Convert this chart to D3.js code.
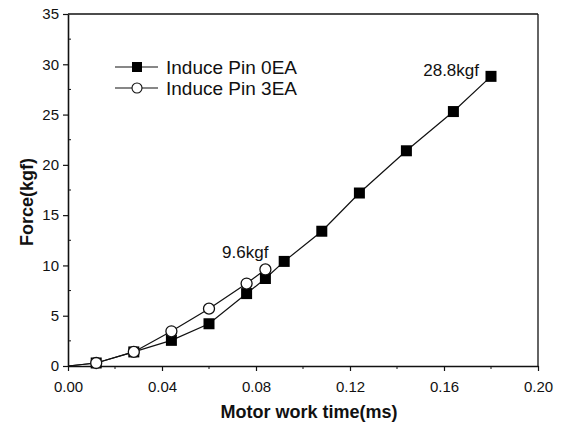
<!DOCTYPE html>
<html>
<head>
<meta charset="utf-8">
<script src="https://cdn.jsdelivr.net/npm/d3@7/dist/d3.min.js"></script>
<style>
  html, body { margin: 0; padding: 0; background: #fff; }
  svg { display: block; font-family: "Liberation Sans", Arial, sans-serif; }
</style>
</head>
<body>
<svg id="chart" width="562" height="424"></svg>
<script>
// Motor work time (ms) for each measurement
const timePin0 = [0, 0.012, 0.028, 0.044, 0.060, 0.076, 0.084, 0.092, 0.108, 0.124, 0.144, 0.164, 0.180];
const forcePin0 = [0, 0.3, 1.4, 2.55, 4.2, 7.2, 8.7, 10.4, 13.4, 17.2, 21.4, 25.3, 28.8];
const timePin3 = [0, 0.012, 0.028, 0.044, 0.060, 0.076, 0.084];
const forcePin3 = [0, 0.3, 1.4, 3.45, 5.7, 8.2, 9.6];

const seriesNames = ["Induce Pin 0EA", "Induce Pin 3EA"];
const xTicks = [0, 0.04, 0.08, 0.12, 0.16, 0.20];
const yTicks = [0, 5, 10, 15, 20, 25, 30, 35];
const peakLabels = ["28.8kgf", "9.6kgf"];

const svg = d3.select("#chart");
const plotLeft = 68, plotRight = 538, plotTop = 14, plotBottom = 366;

const x = d3.scaleLinear().domain([0, 0.2]).range([plotLeft, plotRight]);
const y = d3.scaleLinear().domain([0, 35]).range([plotBottom, plotTop]);

const pin0 = timePin0.map((t, i) => ({ t, f: forcePin0[i] }));
const pin3 = timePin3.map((t, i) => ({ t, f: forcePin3[i] }));

// Frame: top and right borders
svg.append("line").attr("x1", plotLeft).attr("x2", plotRight).attr("y1", plotTop).attr("y2", plotTop)
  .attr("stroke", "#111").attr("stroke-width", 1.3);
svg.append("line").attr("x1", plotRight).attr("x2", plotRight).attr("y1", plotTop).attr("y2", plotBottom)
  .attr("stroke", "#111").attr("stroke-width", 1.3);

// Minor ticks
const xMinor = d3.range(0.02, 0.2, 0.04);
svg.append("g").selectAll("line").data(xMinor).join("line")
  .attr("x1", d => x(d)).attr("x2", d => x(d)).attr("y1", plotBottom).attr("y2", plotBottom + 3)
  .attr("stroke", "#111").attr("stroke-width", 1);
const yMinor = d3.range(2.5, 35, 5);
svg.append("g").selectAll("line").data(yMinor).join("line")
  .attr("x1", plotLeft).attr("x2", plotLeft + 3).attr("y1", d => y(d)).attr("y2", d => y(d))
  .attr("stroke", "#111").attr("stroke-width", 1);

// Axes
const xAxis = svg.append("g").attr("transform", `translate(0,${plotBottom})`)
  .call(d3.axisBottom(x).tickValues(xTicks).tickFormat(d3.format(".2f")).tickSize(5).tickSizeOuter(0));
const yAxis = svg.append("g").attr("transform", `translate(${plotLeft},0)`)
  .call(d3.axisLeft(y).tickValues(yTicks).tickFormat(d3.format("d")).tickSize(5).tickSizeOuter(0));

[xAxis, yAxis].forEach(g => {
  g.select(".domain").attr("stroke", "#111").attr("stroke-width", 1.6);
  g.selectAll(".tick line").attr("stroke", "#111").attr("stroke-width", 1.2);
  g.selectAll(".tick text").attr("fill", "#111").attr("font-size", 15)
    .attr("font-family", "'Liberation Sans', Arial, sans-serif");
});
xAxis.selectAll(".tick text").attr("dy", "0.71em").attr("y", 15);
yAxis.selectAll(".tick text").attr("x", -9);

// Axis titles
svg.append("text").attr("x", 309).attr("y", 418).attr("text-anchor", "middle")
  .attr("font-size", 18).attr("font-weight", "bold").attr("fill", "#111")
  .text("Motor work time(ms)");
svg.append("text").attr("transform", "translate(33,202) rotate(-90)").attr("text-anchor", "middle")
  .attr("font-size", 18).attr("font-weight", "bold").attr("fill", "#111")
  .text("Force(kgf)");

// Series lines
const line = d3.line().x(d => x(d.t)).y(d => y(d.f));
svg.append("path").datum(pin0).attr("d", line)
  .attr("fill", "none").attr("stroke", "#111").attr("stroke-width", 1.2);
svg.append("path").datum(pin3).attr("d", line)
  .attr("fill", "none").attr("stroke", "#111").attr("stroke-width", 1.2);

// Markers (points after the origin)
const sq = 11;
svg.append("g").selectAll("rect").data(pin0.filter(d => d.t > 0)).join("rect")
  .attr("x", d => x(d.t) - sq / 2).attr("y", d => y(d.f) - sq / 2)
  .attr("width", sq).attr("height", sq).attr("fill", "#000");
svg.append("g").selectAll("circle").data(pin3.filter(d => d.t > 0)).join("circle")
  .attr("cx", d => x(d.t)).attr("cy", d => y(d.f)).attr("r", 5.5)
  .attr("fill", "#fff").attr("stroke", "#111").attr("stroke-width", 1.3);

// Peak annotations
const last0 = pin0[pin0.length - 1];
const last3 = pin3[pin3.length - 1];
svg.append("text").attr("x", x(last0.t) - 12).attr("y", y(last0.f) + 0).attr("text-anchor", "end")
  .attr("font-size", 17).attr("fill", "#111").text(peakLabels[0]);
svg.append("text").attr("x", x(last3.t) + 3).attr("y", y(last3.f) - 11).attr("text-anchor", "end")
  .attr("font-size", 17).attr("fill", "#111").text(peakLabels[1]);

// Legend
const legend = svg.append("g");
const lx1 = 115, lx2 = 158, lxm = 137;
const rows = [67, 88];
rows.forEach((ry, i) => {
  legend.append("line").attr("x1", lx1).attr("x2", lx2).attr("y1", ry).attr("y2", ry)
    .attr("stroke", "#111").attr("stroke-width", 1.2);
  if (i === 0) {
    legend.append("rect").attr("x", lxm - 5).attr("y", ry - 5).attr("width", 10).attr("height", 10)
      .attr("fill", "#000");
  } else {
    legend.append("circle").attr("cx", lxm).attr("cy", ry).attr("r", 5)
      .attr("fill", "#fff").attr("stroke", "#111").attr("stroke-width", 1.1);
  }
  legend.append("text").attr("x", 166).attr("y", ry + 7).attr("font-size", 19).attr("fill", "#111")
    .text(seriesNames[i]);
});
</script>
</body>
</html>
